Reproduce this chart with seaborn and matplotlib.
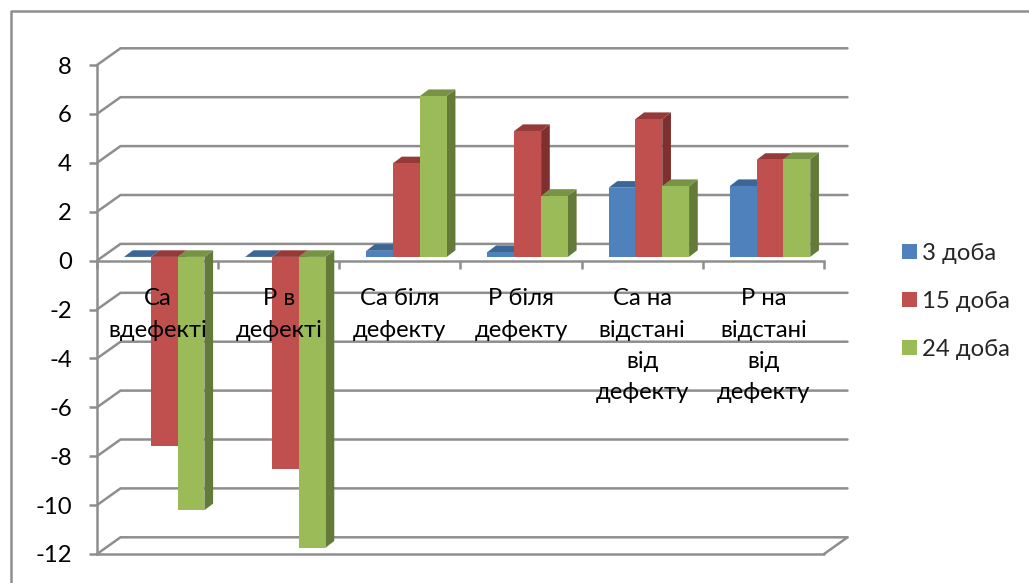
import matplotlib
matplotlib.use("Agg")
import matplotlib.pyplot as plt
from matplotlib.lines import Line2D
from matplotlib.patches import Patch, Polygon
from matplotlib.ticker import FixedLocator
import numpy as np
import pandas as pd
import seaborn as sns

categories = ["Са\nвдефекті", "Р в\nдефекті", "Са біля\nдефекту", "Р біля\nдефекту",
              "Са на\nвідстані\nвід\nдефекту", "Р на\nвідстані\nвід\nдефекту"]
series_names = ["3 доба", "15 доба", "24 доба"]
day3 = [0.0, 0.0, 0.25, 0.2, 2.83, 2.9]
day15 = [-7.74, -8.68, 3.83, 5.15, 5.64, 3.97]
day24 = [-10.36, -11.89, 6.58, 2.5, 2.9, 4.0]
y_ticks = [8, 6, 4, 2, 0, -2, -4, -6, -8, -10, -12]

front_colors = ["#4F81BD", "#C0504D", "#9BBB59"]
top_colors = ["#3C6695", "#953A38", "#779345"]
side_colors = ["#335580", "#7F302E", "#647A39"]
GRID = "#8E8E8E"
LW = 1.8
FONT_SIZE = 17.2

W, H = 1029, 583
sns.set_theme(style="white")
plt.rcParams["font.family"] = ["Lato", "Open Sans"]
plt.rcParams["axes.unicode_minus"] = False
fig = plt.figure(figsize=(W / 100, H / 100), dpi=100)
ax = fig.add_axes([97 / W, 1 - 554 / H, 727 / W, 489 / H])

frame = pd.DataFrame({
    "category": categories * 3,
    "series": np.repeat(series_names, len(categories)),
    "value": day3 + day15 + day24,
})
sns.barplot(data=frame, x="category", y="value", hue="series", order=categories,
            hue_order=series_names, palette=front_colors, width=0.664,
            saturation=1, errorbar=None, legend=False, ax=ax)
ax.set_xlim(-0.5, 5.5)
ax.set_ylim(-12, 8)
ax.set_xlabel("")
ax.set_ylabel("")

# Pixel-to-data factors for the oblique projection
px_x = 6 / 727
px_y = 20 / 489
wall_dx, wall_dy = 23.5 * px_x, 16.7 * px_y
depth_dx, depth_dy = 8.7 * px_x, 6.6 * px_y
shift_x, shift_y = 6.6 * px_x, 3.7 * px_y

# Back wall, floor and left-wall segments of the gridlines
for tick in y_ticks:
    ax.plot([-0.5, -0.5 + wall_dx, 5.5 + wall_dx], [tick, tick + wall_dy, tick + wall_dy],
            color=GRID, lw=LW, clip_on=False, zorder=1, solid_joinstyle="miter")
ax.plot([5.5, 5.5 + wall_dx], [-12, -12 + wall_dy], color=GRID, lw=LW, clip_on=False, zorder=1)

# Extrude each bar left to right, series by series
for c_idx, container in enumerate(ax.containers):
    for b_idx, bar in enumerate(container.patches):
        order = 10 + b_idx * 10 + c_idx * 3
        x0 = bar.get_x() + shift_x
        x1 = x0 + bar.get_width()
        value = bar.get_height() + bar.get_y()
        base = shift_y
        end = base + value
        top = max(base, end)
        low = min(base, end)
        bar.set_x(x0)
        bar.set_y(low)
        bar.set_height(top - low)
        bar.set_linewidth(0)
        bar.set_zorder(order + 2)
        ax.add_patch(Polygon([(x1, low), (x1 + depth_dx, low + depth_dy),
                              (x1 + depth_dx, top + depth_dy), (x1, top)],
                             closed=True, fc=side_colors[c_idx], lw=0, zorder=order, clip_on=False))
        ax.add_patch(Polygon([(x0, top), (x1, top), (x1 + depth_dx, top + depth_dy),
                              (x0 + depth_dx, top + depth_dy)],
                             closed=True, fc=top_colors[c_idx], lw=0, zorder=order + 1, clip_on=False))

# Front axes: zero-line category axis and left value axis
for name in ("top", "right"):
    ax.spines[name].set_visible(False)
ax.spines["bottom"].set_position(("data", 0))
for name in ("bottom", "left"):
    ax.spines[name].set_color(GRID)
    ax.spines[name].set_linewidth(LW)
    ax.spines[name].set_zorder(2)
ax.plot([-0.5, 5.5], [-12, -12], color=GRID, lw=LW, clip_on=False, zorder=2)

ax.set_yticks(y_ticks)
ax.tick_params(axis="y", left=True, length=6, width=LW, color=GRID, pad=12,
               labelsize=FONT_SIZE, labelcolor="black")
ax.set_xticks(range(len(categories)))
ax.set_xticklabels(categories, fontsize=FONT_SIZE, color="black", linespacing=1.6)
ax.xaxis.set_minor_locator(FixedLocator(np.arange(-0.5, 6.5)))
ax.tick_params(axis="x", which="major", bottom=False, pad=14)
ax.tick_params(axis="x", which="minor", bottom=True, length=6, width=LW, color=GRID)
ax.xaxis.set_zorder(200)
ax.yaxis.set_zorder(200)
ax.patch.set_alpha(0)

handles = [Patch(fc=c, lw=0) for c in front_colors]
fig.legend(handles, series_names, loc="upper left", bbox_to_anchor=(902 / W, 1 - 243 / H),
           frameon=False, fontsize=FONT_SIZE, handlelength=0.63, handleheight=0.63,
           handletextpad=0.2, labelspacing=1.13, borderpad=0, borderaxespad=0)

# Chart-area outline running off the top-right and bottom-left edges
fig.add_artist(Line2D([10.5 / W, 10.5 / W, 1], [0, 1 - 11 / H, 1 - 11 / H],
                      color=GRID, lw=LW))

fig.savefig("out.png", dpi=100)
